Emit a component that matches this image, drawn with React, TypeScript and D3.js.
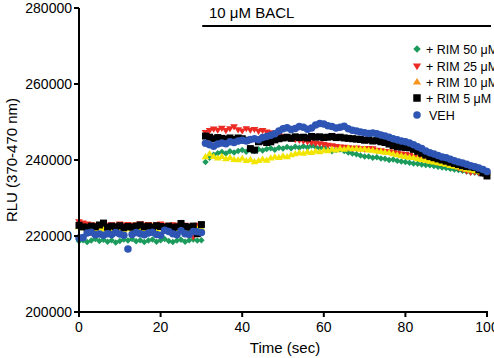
import React from "react";
import * as d3 from "d3";

// Time points (sec)
const timesBase = d3.range(0, 31, 1);
const timesPost = d3.range(31, 101, 1);

// Values in thousands of RLU
const rim50Base = [218.6, 218.9, 218.4, 218.8, 219.2, 218.7, 219.0, 218.5, 218.9, 218.3, 218.7, 219.1, 218.8, 219.2, 218.6, 218.9, 218.4, 218.8, 219.1, 218.5, 218.9, 219.2, 218.7, 218.4, 218.8, 219.0, 218.5, 218.9, 219.1, 218.8, 218.9];
const rim25Base = [223.8, 223.5, 223.2, 223.0, 222.8, 223.1, 223.4, 222.9, 223.0, 222.7, 223.2, 222.9, 223.1, 222.8, 223.0, 223.3, 222.9, 223.1, 222.8, 223.0, 223.2, 222.9, 222.7, 223.0, 222.8, 223.1, 222.9, 222.6, 219.8, 222.9, 223.0];
const rim10Base = [222.4, 222.1, 221.8, 222.0, 221.9, 222.2, 221.7, 222.0, 221.8, 222.1, 221.9, 221.6, 222.0, 221.8, 222.1, 221.9, 221.7, 222.0, 222.4, 221.8, 222.0, 221.7, 221.9, 222.1, 221.8, 222.0, 221.9, 221.7, 222.0, 221.8, 221.9];
const rim5Base = [222.8, 222.4, 222.2, 222.6, 222.4, 222.9, 223.4, 222.3, 222.6, 222.4, 222.7, 222.2, 222.5, 222.3, 222.6, 222.9, 222.4, 222.6, 222.3, 222.7, 222.5, 222.3, 222.6, 222.2, 222.4, 223.3, 222.5, 222.3, 222.6, 220.6, 223.0];
const vehBase = [219.5, 219.6, 220.8, 221.0, 220.3, 220.5, 220.2, 220.6, 220.4, 220.9, 220.5, 220.2, 216.6, 220.4, 220.9, 220.6, 220.3, 220.8, 221.0, 220.4, 220.2, 221.5, 221.2, 220.6, 220.3, 221.4, 220.6, 220.4, 221.2, 221.1, 220.9];

const rim50Post = [239.5, 240.6, 241.4, 241.8, 242.1, 241.7, 242.3, 242.0, 242.4, 242.6, 242.2, 242.7, 242.4, 242.8, 242.5, 242.9, 243.1, 242.7, 243.2, 243.0, 243.4, 243.1, 243.5, 243.2, 243.6, 243.3, 243.8, 243.4, 243.1, 243.4, 242.8, 242.3, 242.6, 242.8, 242.4, 242.0, 241.7, 241.5, 241.2, 240.9, 240.9, 240.6, 240.7, 240.4, 240.3, 240.0, 240.1, 239.8, 239.6, 239.5, 239.3, 239.1, 239.0, 238.8, 238.7, 238.6, 238.4, 238.2, 238.0, 237.9, 237.7, 237.5, 237.4, 237.2, 237.0, 236.8, 236.7, 236.5, 236.3, 236.1];
const rim25Post = [247.3, 247.8, 248.2, 247.9, 248.4, 247.8, 248.3, 248.8, 248.0, 247.7, 248.3, 247.9, 248.1, 247.6, 247.8, 247.4, 247.2, 246.8, 246.5, 246.2, 246.0, 245.7, 245.4, 245.2, 245.0, 244.8, 244.6, 244.4, 244.3, 244.1, 243.9, 243.8, 243.6, 243.5, 243.4, 243.3, 243.1, 243.2, 243.0, 242.9, 243.1, 243.0, 242.6, 242.5, 242.3, 242.2, 242.0, 241.8, 241.6, 241.5, 241.3, 241.0, 240.7, 240.5, 240.2, 240.0, 239.8, 239.5, 239.3, 239.2, 238.8, 238.5, 238.0, 237.6, 237.1, 236.8, 236.9, 236.7, 236.5, 236.3];
const rim10Post = [240.8, 241.6, 240.9, 240.5, 240.9, 240.3, 240.6, 240.1, 240.0, 240.4, 239.8, 240.1, 239.5, 239.8, 240.2, 239.9, 240.5, 240.8, 240.6, 241.0, 240.8, 241.3, 241.6, 241.9, 241.7, 242.1, 241.9, 242.3, 242.1, 242.5, 242.4, 242.8, 242.6, 243.0, 242.8, 243.1, 242.9, 243.0, 242.8, 242.9, 242.6, 242.5, 242.3, 242.2, 242.0, 241.9, 241.6, 241.3, 241.1, 240.9, 240.7, 240.6, 240.3, 240.1, 239.9, 239.6, 239.4, 239.2, 239.0, 238.8, 238.5, 238.3, 238.1, 237.8, 237.5, 237.3, 237.1, 236.9, 236.7, 236.5];
const rim5Post = [246.3, 246.0, 245.6, 245.9, 245.7, 245.5, 245.8, 245.4, 245.8, 245.6, 245.2, 243.0, 242.6, 244.8, 245.0, 244.6, 244.8, 245.3, 245.6, 245.8, 246.0, 245.7, 246.1, 245.9, 246.0, 245.8, 246.2, 246.0, 246.1, 245.9, 246.0, 246.2, 245.9, 246.0, 245.8, 245.7, 245.6, 245.5, 245.4, 245.2, 245.3, 245.0, 245.1, 244.8, 244.6, 244.2, 243.8, 243.5, 243.4, 243.3, 243.2, 242.8, 242.3, 241.8, 241.3, 240.9, 240.6, 240.3, 240.0, 239.7, 239.4, 239.1, 238.8, 238.5, 238.3, 238.2, 238.0, 237.4, 236.6, 235.8];
const vehPost = [244.4, 244.0, 243.6, 244.2, 244.5, 244.3, 244.8, 244.6, 245.0, 245.2, 245.0, 245.4, 245.6, 245.3, 245.9, 246.2, 246.5, 246.9, 247.6, 248.2, 248.5, 248.0, 248.3, 248.8, 248.6, 248.1, 248.4, 249.2, 249.6, 249.5, 249.0, 248.8, 248.4, 248.6, 248.9, 248.2, 247.8, 247.6, 247.4, 247.2, 247.0, 247.1, 246.9, 246.6, 246.3, 246.0, 245.6, 245.3, 245.0, 244.8, 244.5, 244.0, 243.5, 243.0, 242.4, 241.9, 241.6, 241.2, 240.8, 240.6, 240.2, 239.8, 239.5, 239.2, 238.9, 238.5, 238.2, 237.9, 237.5, 237.0];

const seriesNames = ["+ RIM 50 μM", "+ RIM 25 μM", "+ RIM 10 μM", "+ RIM 5 μM", "VEH"];
const seriesColors = ["#1c9b5c", "#ec2a24", "#f2e600", "#000000", "#2e55b4"];
const legendColors = ["#1c9b5c", "#ec2a24", "#f7941d", "#000000", "#2e55b4"];
const seriesShapes = ["diamond", "triDown", "triUp", "square", "circle"];
const seriesBase = [rim50Base, rim25Base, rim10Base, rim5Base, vehBase];
const seriesPost = [rim50Post, rim25Post, rim10Post, rim5Post, vehPost];

const yTicks = [200000, 220000, 240000, 260000, 280000];
const xTicks = [0, 20, 40, 60, 80, 100];

const W = 494, H = 358;
const x = d3.scaleLinear().domain([0, 100]).range([79, 487]);
const y = d3.scaleLinear().domain([200000, 280000]).range([312, 8]);

function shapePath(shape: string, s: number): string {
  const h = s / 2;
  switch (shape) {
    case "diamond":
      return `M0,${-h}L${h},0L0,${h}L${-h},0Z`;
    case "triDown": {
      const r = s * 0.55;
      return `M${-r},${-r * 0.6}L${r},${-r * 0.6}L0,${r * 1.0}Z`;
    }
    case "triUp": {
      const r = s * 0.55;
      return `M${-r},${r * 0.6}L${r},${r * 0.6}L0,${-r * 1.0}Z`;
    }
    case "square":
      return `M${-h},${-h}H${h}V${h}H${-h}Z`;
    default:
      return d3.symbol().type(d3.symbolCircle).size(Math.PI * h * h)() as string;
  }
}

const markerSize = [6.5, 7, 7, 7, 7.5];
const font = "'Liberation Sans', Arial, Helvetica, sans-serif";

export default function App() {
  const legendY = [49, 66, 82, 98, 115];
  return (
    <svg width={W} height={H} style={{ position: "absolute", left: 0, top: 0, background: "#fff" }} fontFamily={font}>
      {/* data */}
      {seriesNames.map((name, i) => {
        const pts = [
          ...timesBase.map((t, j) => [t, seriesBase[i][j] * 1000]),
          ...timesPost.map((t, j) => [t, seriesPost[i][j] * 1000]),
        ];
        const p = shapePath(seriesShapes[i], markerSize[i]);
        return (
          <g key={name} fill={seriesColors[i]}>
            {pts.map(([t, v], k) => (
              <path key={k} d={p} transform={`translate(${x(t)},${y(v)})`} />
            ))}
          </g>
        );
      })}

      {/* y axis */}
      <line x1={79} x2={79} y1={y(280000)} y2={y(200000) + 1} stroke="#000" strokeWidth={2} />
      {yTicks.map((t) => (
        <g key={t}>
          <line x1={74} x2={79} y1={y(t)} y2={y(t)} stroke="#000" strokeWidth={2} />
          <text x={72} y={y(t) + 5} textAnchor="end" fontSize={14}>{t}</text>
        </g>
      ))}
      {/* x axis */}
      <line x1={78} x2={x(100) + 1} y1={312} y2={312} stroke="#000" strokeWidth={2} />
      {xTicks.map((t) => (
        <g key={t}>
          <line x1={x(t)} x2={x(t)} y1={312} y2={317} stroke="#000" strokeWidth={2} />
          <text x={x(t)} y={332} textAnchor="middle" fontSize={14}>{t}</text>
        </g>
      ))}
      <text x={285} y={353} textAnchor="middle" fontSize={15}>Time (sec)</text>
      <text transform={`translate(17,${y(240000)}) rotate(-90)`} textAnchor="middle" fontSize={15}>RLU (370-470 nm)</text>

      {/* treatment bar */}
      <line x1={x(30.2)} x2={491} y1={26} y2={26} stroke="#000" strokeWidth={2} />
      <text x={209} y={18} fontSize={15}>10 μM BACL</text>

      {/* legend */}
      {seriesNames.map((name, i) => (
        <g key={name}>
          <path d={shapePath(seriesShapes[i], 7.5)} transform={`translate(417,${legendY[i]})`} fill={legendColors[i]} />
          <text x={i === 4 ? 429 : 426} y={legendY[i] + 4.5} fontSize={12.5}>{name}</text>
        </g>
      ))}
    </svg>
  );
}
